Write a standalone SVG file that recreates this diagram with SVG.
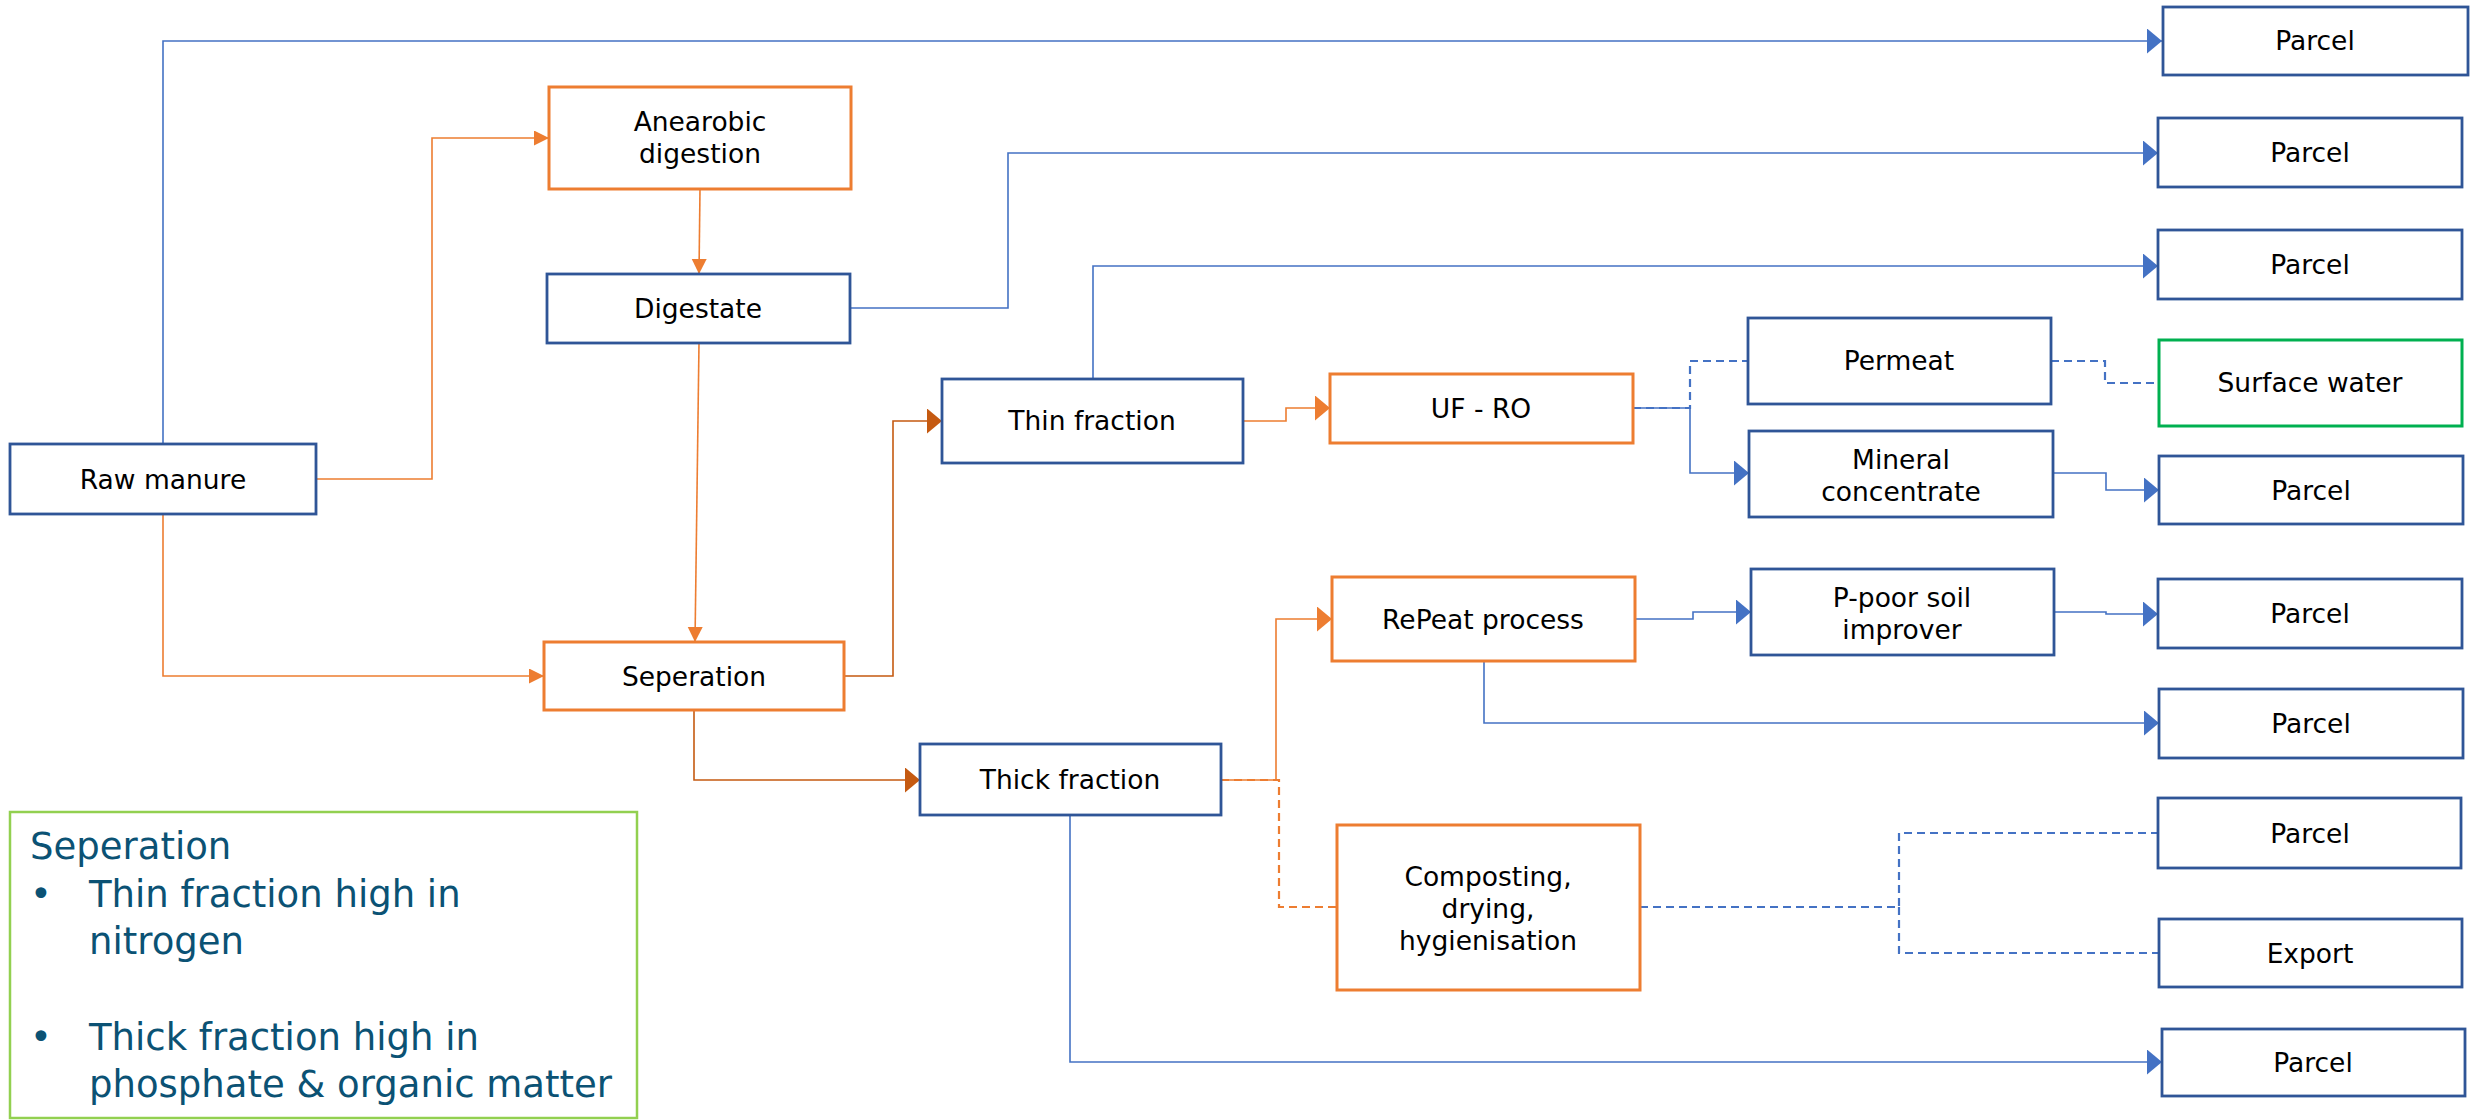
<svg xmlns="http://www.w3.org/2000/svg" width="2473" height="1120" viewBox="0 0 2473 1120">
<style>
.nb rect{fill:#fff;stroke:#2F5597;stroke-width:2.8}
.no rect{fill:#fff;stroke:#ED7D31;stroke-width:3}
.ng rect{fill:#fff;stroke:#00B050;stroke-width:3}
text.t{font-family:"DejaVu Sans",Verdana,sans-serif;font-size:26.5px;fill:#000;text-anchor:middle}
.cb{fill:none;stroke:#4472C4;stroke-width:1.6}
.cbd{fill:none;stroke:#4472C4;stroke-width:2.2;stroke-dasharray:8 5}
.co{fill:none;stroke:#ED7D31;stroke-width:1.6}
.cdo{fill:none;stroke:#C55A11;stroke-width:1.6}
.cod{fill:none;stroke:#ED7D31;stroke-width:2.2;stroke-dasharray:8 5}
.lg{font-family:"DejaVu Sans",Verdana,sans-serif;font-size:37px;fill:#0B5274}
</style>
<defs>
<marker id="ab" markerUnits="userSpaceOnUse" markerWidth="16" markerHeight="26" refX="15" refY="12.5" orient="auto"><path d="M0,0 L15,12.5 L0,25 z" fill="#4472C4"/></marker>
<marker id="ao" markerUnits="userSpaceOnUse" markerWidth="16" markerHeight="26" refX="15" refY="12.5" orient="auto"><path d="M0,0 L15,12.5 L0,25 z" fill="#ED7D31"/></marker>
<marker id="ado" markerUnits="userSpaceOnUse" markerWidth="16" markerHeight="26" refX="15" refY="12.5" orient="auto"><path d="M0,0 L15,12.5 L0,25 z" fill="#C55A11"/></marker>
<marker id="aos" markerUnits="userSpaceOnUse" markerWidth="16" markerHeight="16" refX="15" refY="7.5" orient="auto"><path d="M0,0 L15,7.5 L0,15 z" fill="#ED7D31"/></marker>
</defs>

<g id="connectors">
<path class="cb" d="M163,444 V41 H2162" marker-end="url(#ab)"/>
<path class="cb" d="M850,308 H1008 V153 H2158" marker-end="url(#ab)"/>
<path class="cb" d="M1093,379 V266 H2158" marker-end="url(#ab)"/>
<path class="cb" d="M1633,408 H1690 V473 H1749" marker-end="url(#ab)"/>
<path class="cb" d="M2053,473 H2106 V490 H2159" marker-end="url(#ab)"/>
<path class="cb" d="M1635,619 H1693 V612 H1751" marker-end="url(#ab)"/>
<path class="cb" d="M2054,612 H2106 V614 H2158" marker-end="url(#ab)"/>
<path class="cb" d="M1484,661 V723 H2159" marker-end="url(#ab)"/>
<path class="cb" d="M1070,815 V1062 H2162" marker-end="url(#ab)"/>
<path class="cbd" d="M1633,408 H1690 V361 H1748"/>
<path class="cbd" d="M2051,361 H2105 V383 H2159"/>
<path class="cbd" d="M1640,907 H1899 V833 H2158"/>
<path class="cbd" d="M1899,907 V953 H2159"/>
<path class="co" d="M316,479 H432 V138 H549" marker-end="url(#aos)"/>
<path class="co" d="M700,189 L699,274" marker-end="url(#aos)"/>
<path class="co" d="M699,343 L695,642" marker-end="url(#aos)"/>
<path class="co" d="M163,514 V676 H544" marker-end="url(#aos)"/>
<path class="cdo" d="M844,676 H893 V421 H942" marker-end="url(#ado)"/>
<path class="cdo" d="M694,710 V780 H920" marker-end="url(#ado)"/>
<path class="co" d="M1243,421 H1286 V408 H1330" marker-end="url(#ao)"/>
<path class="co" d="M1221,780 H1276 V619 H1332" marker-end="url(#ao)"/>
<path class="cod" d="M1221,780 H1279 V907 H1337"/>
</g>

<g id="parcel1" class="nb"><rect x="2163" y="7" width="305" height="68"/><text class="t" x="2315" y="50">Parcel</text></g>
<g id="anaerobic" class="no"><rect x="549" y="87" width="302" height="102"/><text class="t" x="700" y="131">Anearobic</text><text class="t" x="700" y="163">digestion</text></g>
<g id="parcel2" class="nb"><rect x="2158" y="118" width="304" height="69"/><text class="t" x="2310" y="162">Parcel</text></g>
<g id="digestate" class="nb"><rect x="547" y="274" width="303" height="69"/><text class="t" x="698" y="318">Digestate</text></g>
<g id="parcel3" class="nb"><rect x="2158" y="230" width="304" height="69"/><text class="t" x="2310" y="274">Parcel</text></g>
<g id="thin" class="nb"><rect x="942" y="379" width="301" height="84"/><text class="t" x="1092" y="430">Thin fraction</text></g>
<g id="ufro" class="no"><rect x="1330" y="374" width="303" height="69"/><text class="t" x="1481" y="418">UF - RO</text></g>
<g id="permeat" class="nb"><rect x="1748" y="318" width="303" height="86"/><text class="t" x="1899" y="370">Permeat</text></g>
<g id="surface" class="ng"><rect x="2159" y="340" width="303" height="86"/><text class="t" x="2310" y="392">Surface water</text></g>
<g id="mineral" class="nb"><rect x="1749" y="431" width="304" height="86"/><text class="t" x="1901" y="469">Mineral</text><text class="t" x="1901" y="501">concentrate</text></g>
<g id="parcel4" class="nb"><rect x="2159" y="456" width="304" height="68"/><text class="t" x="2311" y="500">Parcel</text></g>
<g id="raw" class="nb"><rect x="10" y="444" width="306" height="70"/><text class="t" x="163" y="489">Raw manure</text></g>
<g id="repeat" class="no"><rect x="1332" y="577" width="303" height="84"/><text class="t" x="1483" y="629">RePeat process</text></g>
<g id="ppoor" class="nb"><rect x="1751" y="569" width="303" height="86"/><text class="t" x="1902" y="607">P-poor soil</text><text class="t" x="1902" y="639">improver</text></g>
<g id="parcel5" class="nb"><rect x="2158" y="579" width="304" height="69"/><text class="t" x="2310" y="623">Parcel</text></g>
<g id="seperation" class="no"><rect x="544" y="642" width="300" height="68"/><text class="t" x="694" y="686">Seperation</text></g>
<g id="parcel6" class="nb"><rect x="2159" y="689" width="304" height="69"/><text class="t" x="2311" y="733">Parcel</text></g>
<g id="thick" class="nb"><rect x="920" y="744" width="301" height="71"/><text class="t" x="1070" y="789">Thick fraction</text></g>
<g id="parcel7" class="nb"><rect x="2158" y="798" width="303" height="70"/><text class="t" x="2310" y="843">Parcel</text></g>
<g id="composting" class="no"><rect x="1337" y="825" width="303" height="165"/><text class="t" x="1488" y="886">Composting,</text><text class="t" x="1488" y="918">drying,</text><text class="t" x="1488" y="950">hygienisation</text></g>
<g id="export" class="nb"><rect x="2159" y="919" width="303" height="68"/><text class="t" x="2310" y="963">Export</text></g>
<g id="parcel8" class="nb"><rect x="2162" y="1029" width="303" height="67"/><text class="t" x="2313" y="1072">Parcel</text></g>

<g id="legend">
<rect x="10" y="812" width="627" height="306" fill="#fff" stroke="#92D050" stroke-width="2.5"/>
<text class="lg" x="30" y="859">Seperation</text>
<text class="lg" x="30" y="907">•</text><text class="lg" x="89" y="907">Thin fraction high in</text>
<text class="lg" x="89" y="954">nitrogen</text>
<text class="lg" x="30" y="1050">•</text><text class="lg" x="89" y="1050">Thick fraction high in</text>
<text class="lg" x="89" y="1097">phosphate &amp; organic matter</text>
</g>
</svg>
